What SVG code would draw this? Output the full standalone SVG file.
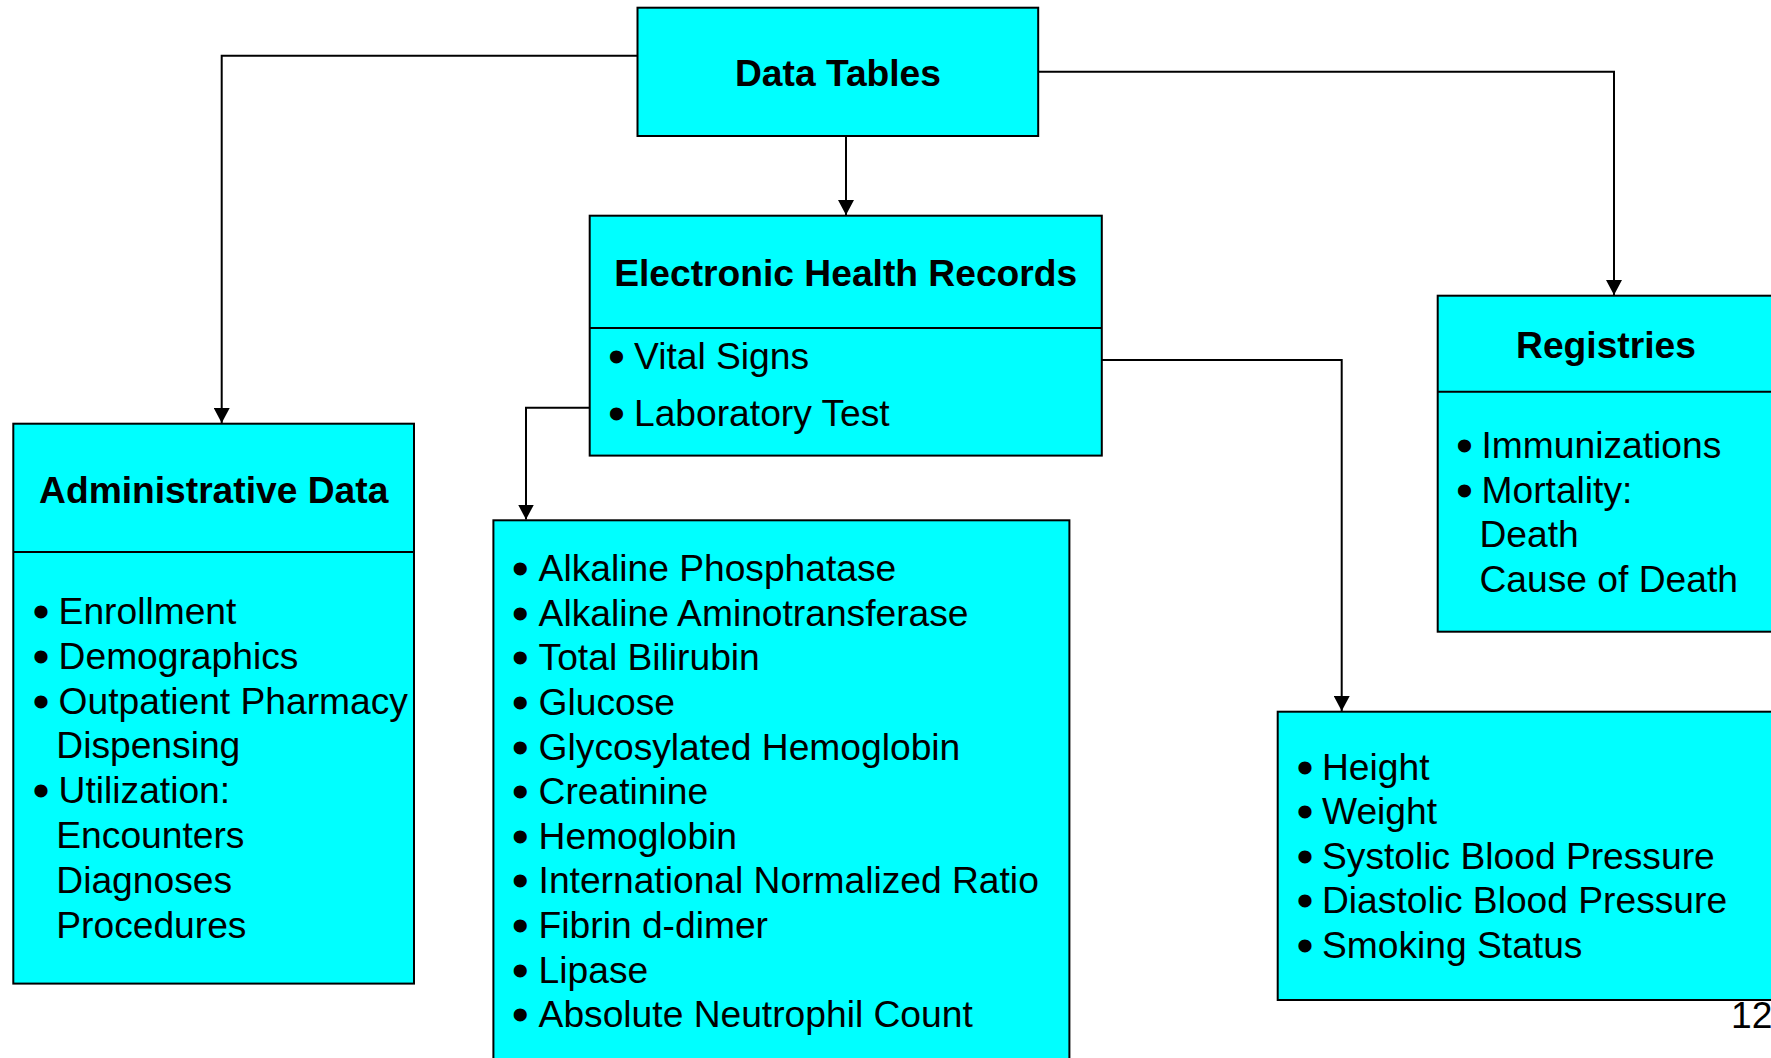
<svg xmlns="http://www.w3.org/2000/svg" width="1771" height="1058" viewBox="0 0 1771 1058">
<style>
.box{fill:#00FFFF;stroke:#000;stroke-width:2}
.div{stroke:#000;stroke-width:2}
.conn{fill:none;stroke:#000;stroke-width:2}
text{font-family:"Liberation Sans",Arial,Helvetica,sans-serif;fill:#000}
.t{font-size:37.2px;font-weight:bold;text-anchor:middle}
.i{font-size:37.2px}
.b{font-size:37.2px;text-anchor:middle;stroke:#000;stroke-width:3;stroke-linejoin:round}
</style>
<defs>
<marker id="arr" markerUnits="userSpaceOnUse" markerWidth="16" markerHeight="16" refX="15" refY="8" orient="auto">
<path d="M0,0 L15,8 L0,16 z" fill="#000"/>
</marker>
</defs>
<rect width="1771" height="1058" fill="#fff"/>
<g id="connectors">
<path class="conn" d="M637.5,55.7 H221.7 V423" marker-end="url(#arr)"/>
<path class="conn" d="M846,136 V215" marker-end="url(#arr)"/>
<path class="conn" d="M1038,71.7 H1614 V295" marker-end="url(#arr)"/>
<path class="conn" d="M589.7,407.7 H526 V519.5" marker-end="url(#arr)"/>
<path class="conn" d="M1101.8,360 H1341.7 V711" marker-end="url(#arr)"/>
</g>
<g id="data-tables">
<rect class="box" x="637.5" y="7.7" width="400.7" height="128.3"/>
<text class="t" x="838" y="86">Data Tables</text>
</g>
<g id="ehr">
<rect class="box" x="589.7" y="215.7" width="512.1" height="239.9"/>
<line class="div" x1="589.7" y1="328" x2="1101.8" y2="328"/>
<text class="t" x="845.7" y="286">Electronic Health Records</text>
<text class="b" x="616.5" y="369">•</text><text class="i" x="634" y="369">Vital Signs</text>
<text class="b" x="616.5" y="425.7">•</text><text class="i" x="634" y="425.7">Laboratory Test</text>
</g>
<g id="administrative-data">
<rect class="box" x="13.3" y="423.7" width="400.7" height="559.9"/>
<line class="div" x1="13.3" y1="551.9" x2="414" y2="551.9"/>
<text class="t" x="213.7" y="502.6">Administrative Data</text>
<text class="b" x="41" y="624">•</text><text class="i" x="58.6" y="624">Enrollment</text>
<text class="b" x="41" y="668.8">•</text><text class="i" x="58.6" y="668.8">Demographics</text>
<text class="b" x="41" y="713.6">•</text><text class="i" x="58.6" y="713.6">Outpatient Pharmacy</text>
<text class="i" x="56.3" y="758.4">Dispensing</text>
<text class="b" x="41" y="803.2">•</text><text class="i" x="58.6" y="803.2">Utilization:</text>
<text class="i" x="56.3" y="848">Encounters</text>
<text class="i" x="56.3" y="892.8">Diagnoses</text>
<text class="i" x="56.3" y="937.6">Procedures</text>
</g>
<g id="laboratory-tests">
<rect class="box" x="493.4" y="520.3" width="576" height="560"/>
<text class="b" x="520.2" y="581.1">•</text><text class="i" x="538.6" y="581.1">Alkaline Phosphatase</text>
<text class="b" x="520.2" y="625.7">•</text><text class="i" x="538.6" y="625.7">Alkaline Aminotransferase</text>
<text class="b" x="520.2" y="670.3">•</text><text class="i" x="538.6" y="670.3">Total Bilirubin</text>
<text class="b" x="520.2" y="714.9">•</text><text class="i" x="538.6" y="714.9">Glucose</text>
<text class="b" x="520.2" y="759.5">•</text><text class="i" x="538.6" y="759.5">Glycosylated Hemoglobin</text>
<text class="b" x="520.2" y="804.1">•</text><text class="i" x="538.6" y="804.1">Creatinine</text>
<text class="b" x="520.2" y="848.7">•</text><text class="i" x="538.6" y="848.7">Hemoglobin</text>
<text class="b" x="520.2" y="893.3">•</text><text class="i" x="538.6" y="893.3">International Normalized Ratio</text>
<text class="b" x="520.2" y="937.9">•</text><text class="i" x="538.6" y="937.9">Fibrin d-dimer</text>
<text class="b" x="520.2" y="982.5">•</text><text class="i" x="538.6" y="982.5">Lipase</text>
<text class="b" x="520.2" y="1027.1">•</text><text class="i" x="538.6" y="1027.1">Absolute Neutrophil Count</text>
</g>
<g id="registries">
<rect class="box" x="1437.7" y="295.7" width="345" height="336"/>
<line class="div" x1="1437.7" y1="391.7" x2="1782" y2="391.7"/>
<text class="t" x="1606" y="358">Registries</text>
<text class="b" x="1464.5" y="458.3">•</text><text class="i" x="1481.5" y="458.3">Immunizations</text>
<text class="b" x="1464.5" y="502.7">•</text><text class="i" x="1481.5" y="502.7">Mortality:</text>
<text class="i" x="1479.5" y="547.1">Death</text>
<text class="i" x="1479.5" y="591.5">Cause of Death</text>
</g>
<g id="vital-signs">
<rect class="box" x="1277.7" y="711.7" width="505" height="288.3"/>
<text class="b" x="1305" y="779.5">•</text><text class="i" x="1322" y="779.5">Height</text>
<text class="b" x="1305" y="824.1">•</text><text class="i" x="1322" y="824.1">Weight</text>
<text class="b" x="1305" y="868.7">•</text><text class="i" x="1322" y="868.7">Systolic Blood Pressure</text>
<text class="b" x="1305" y="913.3">•</text><text class="i" x="1322" y="913.3">Diastolic Blood Pressure</text>
<text class="b" x="1305" y="957.9">•</text><text class="i" x="1322" y="957.9">Smoking Status</text>
</g>
<text id="page-number" class="i" x="1731" y="1027.7">12</text>
</svg>
